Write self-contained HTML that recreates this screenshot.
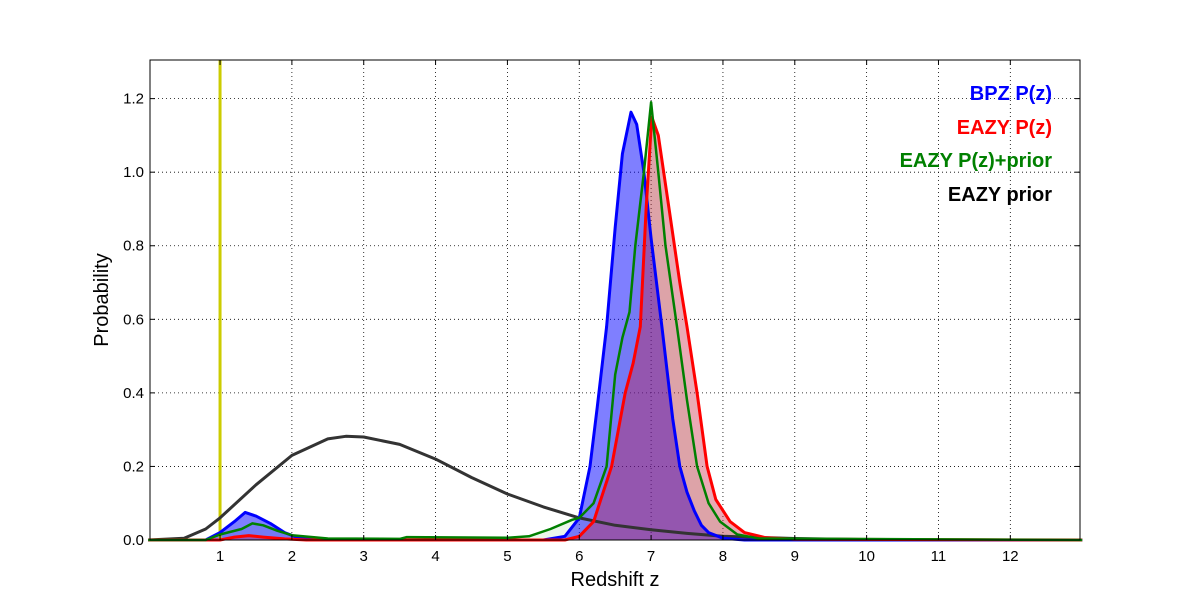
<!DOCTYPE html>
<html><head><meta charset="utf-8"><style>
body{margin:0;background:#fff;}
svg{display:block;font-family:"Liberation Sans",sans-serif;}
</style></head><body>
<svg id="chart" width="1200" height="600">
<rect width="1200" height="600" fill="#fff"/>
<g id="grid"></g>
<g id="fills"></g>
<g id="lines"></g>
<g id="ticks"></g>
<rect x="150" y="60" width="930" height="480" fill="none" stroke="#000" stroke-width="1"/>
<text x="615" y="586" font-size="20" text-anchor="middle">Redshift z</text>
<text transform="translate(108,300) rotate(-90)" font-size="20" text-anchor="middle">Probability</text>
<g font-size="20" font-weight="bold" text-anchor="end">
<text x="1052" y="100" fill="#0000ff">BPZ P(z)</text>
<text x="1052" y="134" fill="#ff0000">EAZY P(z)</text>
<text x="1052" y="167" fill="#008000">EAZY P(z)+prior</text>
<text x="1052" y="201" fill="#000">EAZY prior</text>
</g>
</svg>
<script>
const xTicks=[1,2,3,4,5,6,7,8,9,10,11,12];
const yTicks=[0,0.2,0.4,0.6,0.8,1.0,1.2];
const yTickLabels=["0.0","0.2","0.4","0.6","0.8","1.0","1.2"];
const bpzZ=[0,0.8,1.0,1.2,1.35,1.5,1.7,1.9,2.1,2.5,5.5,5.8,6.0,6.15,6.25,6.38,6.5,6.6,6.72,6.8,6.9,7.0,7.15,7.3,7.4,7.5,7.6,7.7,7.8,8.0,8.3,13];
const bpzP=[0,0,0.02,0.05,0.075,0.065,0.045,0.02,0.005,0,0,0.01,0.06,0.2,0.36,0.58,0.85,1.05,1.163,1.13,1.0,0.82,0.58,0.33,0.2,0.13,0.08,0.04,0.02,0.005,0,0];
const eazyZ=[0,1.0,1.2,1.4,1.6,1.9,2.2,5.8,6.0,6.2,6.45,6.64,6.75,6.85,6.93,7.01,7.1,7.25,7.4,7.5,7.64,7.78,7.9,8.1,8.3,8.6,9,13];
const eazyP=[0,0,0.008,0.012,0.008,0.003,0,0,0.01,0.05,0.2,0.4,0.48,0.58,0.9,1.15,1.1,0.9,0.7,0.58,0.4,0.2,0.11,0.05,0.02,0.006,0.002,0];
const comboZ=[0,0.8,1.0,1.3,1.45,1.6,1.8,2.0,2.5,3.5,3.6,5.0,5.3,5.6,5.9,6.0,6.2,6.38,6.5,6.6,6.7,6.78,6.9,7.0,7.1,7.2,7.36,7.5,7.64,7.8,7.96,8.2,8.5,13];
const comboP=[0,0,0.015,0.03,0.045,0.04,0.025,0.013,0.004,0.003,0.008,0.006,0.01,0.03,0.055,0.06,0.1,0.2,0.45,0.55,0.62,0.8,1.0,1.19,1.0,0.8,0.58,0.38,0.2,0.1,0.05,0.015,0.004,0];
const priorZ=[0,0.5,0.8,1.0,1.5,2.0,2.5,2.75,3.0,3.5,4.0,4.5,5.0,5.5,6.0,6.5,7.0,7.5,8.0,9.0,10,11,13];
const priorP=[0,0.005,0.03,0.06,0.15,0.23,0.275,0.282,0.28,0.26,0.22,0.17,0.125,0.09,0.06,0.04,0.028,0.018,0.01,0.004,0.001,0,0];
const markerZ=1.0;

const X0=150,X1=1080,Y0=540,Y1=60,XMIN=0.025,XMAX=12.97,YMIN=0,YMAX=1.305;
const sx=v=>X0+(v-XMIN)/(XMAX-XMIN)*(X1-X0);
const sy=v=>Y0-(v-YMIN)/(YMAX-YMIN)*(Y0-Y1);
const NS="http://www.w3.org/2000/svg";
function mk(tag,attrs,parent){const e=document.createElementNS(NS,tag);for(const k in attrs)e.setAttribute(k,attrs[k]);parent.appendChild(e);return e;}
const grid=document.getElementById('grid'),ticks=document.getElementById('ticks'),fills=document.getElementById('fills'),lines=document.getElementById('lines');
xTicks.forEach(t=>{const x=sx(t);
 const g=mk('line',{x1:x,x2:x,y1:Y1,y2:Y0,stroke:'#000','stroke-width':0.8,'stroke-dasharray':'1,3'},grid);
 
 mk('line',{x1:x,x2:x,y1:Y0,y2:Y0-5,stroke:'#000'},ticks);
 mk('line',{x1:x,x2:x,y1:Y1,y2:Y1+5,stroke:'#000'},ticks);
 const l=mk('text',{x:x,y:561,'font-size':15,'text-anchor':'middle'},ticks);l.textContent=t;
 });
yTicks.forEach((t,i)=>{const y=sy(t);
 if(i>0){const g=mk('line',{x1:X0,x2:X1,y1:y,y2:y,stroke:'#000','stroke-width':0.8,'stroke-dasharray':'1,3'},grid);
 }
 mk('line',{x1:X0,x2:X0+5,y1:y,y2:y,stroke:'#000'},ticks);
 mk('line',{x1:X1,x2:X1-5,y1:y,y2:y,stroke:'#000'},ticks);
 const l=mk('text',{x:144,y:y+5,'font-size':15,'text-anchor':'end'},ticks);l.textContent=yTickLabels[i];
 });
function pts(Z,P){return Z.map((z,i)=>sx(z).toFixed(1)+','+sy(P[i]).toFixed(1));}
function area(Z,P,fill,name){const p=mk('polygon',{points:sx(Z[0])+','+Y0+' '+pts(Z,P).join(' ')+' '+sx(Z[Z.length-1])+','+Y0,fill:fill},fills);
 }
function line(Z,P,col,w,name){const p=mk('polyline',{points:pts(Z,P).join(' '),fill:'none',stroke:col,'stroke-width':w,'stroke-linejoin':'round'},lines);
 }
area(comboZ,comboP,'rgba(0,128,0,0.08)','eazy-prior-combined-fill');
area(bpzZ,bpzP,'rgba(0,0,255,0.5)','bpz-fill');
area(eazyZ,eazyP,'rgba(200,30,60,0.38)','eazy-fill');
const m=mk('line',{x1:sx(markerZ),x2:sx(markerZ),y1:Y1,y2:Y0,stroke:'#cccc00','stroke-width':3},lines);

line(priorZ,priorP,'#333',3,'eazy-prior-line');
line(bpzZ,bpzP,'#0000ff',3,'bpz-line');
line(eazyZ,eazyP,'#ff0000',3,'eazy-line');
line(comboZ,comboP,'#008000',2.5,'eazy-prior-combined-line');
</script>
</body></html>
